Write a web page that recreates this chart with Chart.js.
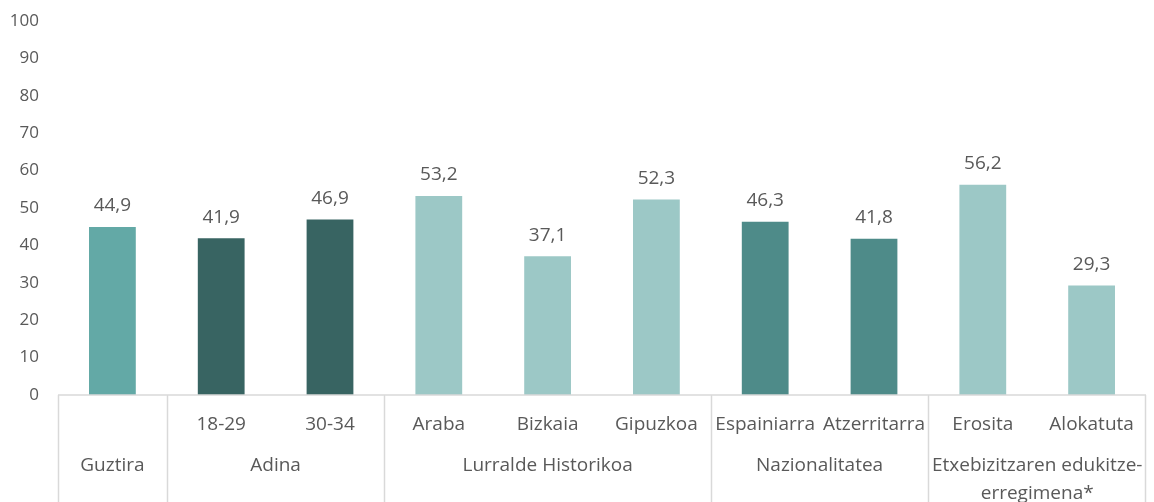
<!DOCTYPE html>
<html>
<head>
<meta charset="utf-8">
<script src="https://cdn.jsdelivr.net/npm/chart.js@4"></script>
<style>
  body { margin: 0; background: #fff; }
  canvas { display: block; }
</style>
</head>
<body>
<canvas id="miGrafico" width="1154" height="502"></canvas>
<script>
// Datos del gráfico
const labels = ['', '18-29', '30-34', 'Araba', 'Bizkaia', 'Gipuzkoa', 'Espainiarra', 'Atzerritarra', 'Erosita', 'Alokatuta'];
const valores = [44.9, 41.9, 46.9, 53.2, 37.1, 52.3, 46.3, 41.8, 56.2, 29.3];
const grupos = ['Guztira', 'Adina', 'Lurralde Historikoa', 'Nazionalitatea', ['Etxebizitzaren edukitze-', 'erregimena*']];
const tamGrupos = [1, 2, 3, 2, 2];
const coloresGrupo = ['#63a9a6', '#386462', '#9cc8c6', '#4e8b89', '#9cc8c6'];

// color de cada barra según su grupo
const colores = [];
tamGrupos.forEach(function (n, g) {
  for (let i = 0; i < n; i++) colores.push(coloresGrupo[g]);
});

const gris = '#595959';
const lineaGris = '#d9d9d9';
const fuente = '"Open Sans", sans-serif';

// etiquetas de valor encima de cada barra
const etiquetasValor = {
  id: 'etiquetasValor',
  afterDatasetsDraw(chart) {
    const c = chart.ctx;
    c.save();
    c.fillStyle = gris;
    c.font = '19px ' + fuente;
    c.textAlign = 'center';
    c.textBaseline = 'middle';
    chart.getDatasetMeta(0).data.forEach(function (bar, i) {
      c.fillText(valores[i].toFixed(1).replace('.', ','), bar.x, bar.y - 21);
    });
    c.restore();
  }
};

// eje X de dos niveles: separadores y nombres de grupo
const ejeGrupos = {
  id: 'ejeGrupos',
  afterDraw(chart) {
    const c = chart.ctx;
    const x = chart.scales.x;
    const area = chart.chartArea;
    const w = x.getPixelForValue(1) - x.getPixelForValue(0);
    c.save();
    c.strokeStyle = lineaGris;
    c.lineWidth = 1.5;
    // linea base
    c.beginPath();
    c.moveTo(area.left, area.bottom);
    c.lineTo(area.right, area.bottom);
    c.stroke();
    c.fillStyle = gris;
    c.font = '19px ' + fuente;
    c.textAlign = 'center';
    c.textBaseline = 'middle';
    let inicio = 0;
    tamGrupos.forEach(function (n, g) {
      const x0 = x.getPixelForValue(inicio) - w / 2;
      const x1 = x.getPixelForValue(inicio + n - 1) + w / 2;
      c.beginPath();
      c.moveTo(Math.round(x0) + 0.5, area.bottom);
      c.lineTo(Math.round(x0) + 0.5, chart.height);
      c.stroke();
      if (g === tamGrupos.length - 1) {
        c.beginPath();
        c.moveTo(Math.round(x1) - 0.5, area.bottom);
        c.lineTo(Math.round(x1) - 0.5, chart.height);
        c.stroke();
      }
      const lineas = [].concat(grupos[g]);
      lineas.forEach(function (t, k) {
        c.fillText(t, (x0 + x1) / 2, area.bottom + 71 + k * 28);
      });
      inicio += n;
    });
    c.restore();
  }
};

document.addEventListener('DOMContentLoaded', function () {
  const ctx = document.getElementById('miGrafico').getContext('2d');

  const midata = {
    labels: labels,
    datasets: [{
      data: valores,
      backgroundColor: colores,
      borderWidth: 0,
      barPercentage: 0.43,
      categoryPercentage: 1
    }]
  };

  new Chart(ctx, {
    type: 'bar',
    data: midata,
    plugins: [etiquetasValor, ejeGrupos],
    options: {
      responsive: false,
      animation: false,
      layout: { autoPadding: false, padding: { top: 21, right: 8, left: 0, bottom: 0 } },
      plugins: {
        legend: { display: false },
        tooltip: { enabled: false }
      },
      scales: {
        y: {
          min: 0,
          max: 100,
          // ancho fijo y sin margen extra arriba/abajo
          afterFit: function (s) {
            s.width = 58;
            s.paddingTop = 0;
            s.paddingBottom = 0;
          },
          grid: { display: false, drawTicks: false },
          border: { display: false },
          ticks: {
            stepSize: 10,
            color: gris,
            padding: 19,
            font: { family: fuente, size: 17 }
          }
        },
        x: {
          afterFit: function (s) { s.height = 107; },
          grid: { display: false, drawTicks: false },
          border: { display: false },
          ticks: {
            color: gris,
            padding: 18,
            maxRotation: 0,
            autoSkip: false,
            font: { family: fuente, size: 19 }
          }
        }
      }
    }
  });
});
</script>
</body>
</html>
